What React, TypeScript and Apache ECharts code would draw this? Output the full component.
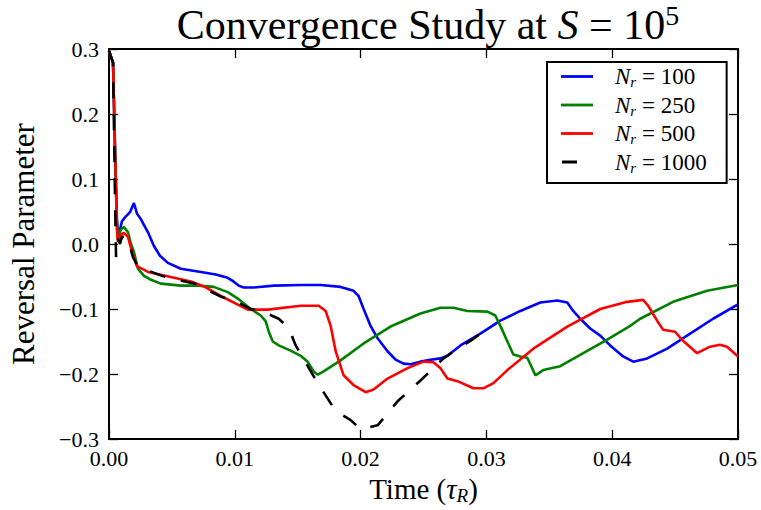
import React, { useEffect, useRef } from 'react';
import * as echarts from 'echarts';

const FONT = "'Liberation Serif', 'DejaVu Serif', serif";

// N_r = 100 (blue)
const t100 = [0, 0.00032, 0.00048, 0.00063, 0.00071, 0.00079, 0.00103, 0.00127, 0.00167, 0.00198, 0.00222, 0.00254, 0.0031, 0.00357, 0.00405, 0.00468, 0.00571, 0.0073, 0.00849, 0.00944, 0.00992, 0.0103, 0.01071, 0.01151, 0.0131, 0.01524, 0.01683, 0.01841, 0.01944, 0.01984, 0.02024, 0.02056, 0.02079, 0.02135, 0.02214, 0.02278, 0.02341, 0.02397, 0.02476, 0.02556, 0.02635, 0.0269, 0.02794, 0.02952, 0.03111, 0.0327, 0.03429, 0.03563, 0.03643, 0.0369, 0.03746, 0.03825, 0.03905, 0.03984, 0.04087, 0.04167, 0.04278, 0.04437, 0.04595, 0.04802, 0.05];
const v100 = [0.297, 0.279, 0.145, 0.038, 0.02, 0.015, 0.035, 0.041, 0.049, 0.063, 0.047, 0.038, 0.018, -0.003, -0.018, -0.029, -0.038, -0.043, -0.047, -0.052, -0.058, -0.064, -0.067, -0.067, -0.064, -0.063, -0.063, -0.066, -0.072, -0.08, -0.1, -0.115, -0.126, -0.145, -0.165, -0.178, -0.184, -0.185, -0.181, -0.178, -0.176, -0.172, -0.156, -0.138, -0.118, -0.103, -0.09, -0.087, -0.09, -0.103, -0.115, -0.13, -0.141, -0.156, -0.173, -0.181, -0.176, -0.161, -0.141, -0.115, -0.093];

// N_r = 250 (green)
const t250 = [0, 0.00032, 0.00048, 0.00063, 0.00071, 0.00095, 0.00119, 0.00151, 0.00175, 0.00198, 0.0023, 0.00278, 0.00333, 0.00413, 0.00571, 0.00706, 0.00833, 0.00944, 0.01024, 0.01127, 0.01206, 0.01246, 0.0127, 0.01302, 0.01349, 0.01444, 0.01524, 0.01579, 0.01627, 0.01659, 0.01706, 0.01841, 0.02024, 0.02238, 0.02476, 0.02635, 0.02738, 0.02849, 0.03008, 0.03071, 0.03111, 0.03167, 0.03214, 0.0327, 0.03325, 0.03357, 0.03389, 0.03452, 0.03587, 0.0377, 0.0396, 0.04143, 0.04222, 0.04484, 0.04754, 0.05];
const v250 = [0.297, 0.279, 0.145, 0.031, 0.008, 0.023, 0.026, 0.018, 0.0, -0.012, -0.038, -0.049, -0.055, -0.061, -0.064, -0.064, -0.066, -0.074, -0.084, -0.1, -0.11, -0.119, -0.135, -0.15, -0.156, -0.164, -0.172, -0.181, -0.196, -0.201, -0.196, -0.179, -0.153, -0.127, -0.107, -0.098, -0.098, -0.103, -0.104, -0.11, -0.126, -0.15, -0.17, -0.173, -0.175, -0.188, -0.202, -0.194, -0.188, -0.168, -0.147, -0.126, -0.115, -0.089, -0.072, -0.063];

// N_r = 500 (red)
const t500 = [0, 0.00032, 0.00048, 0.00063, 0.00071, 0.00095, 0.00119, 0.00151, 0.00183, 0.00222, 0.0031, 0.005, 0.00659, 0.00762, 0.00889, 0.01103, 0.01262, 0.01524, 0.01667, 0.01722, 0.01762, 0.01802, 0.01865, 0.01944, 0.0204, 0.02103, 0.02214, 0.02373, 0.025, 0.02579, 0.02635, 0.0269, 0.0277, 0.02897, 0.02976, 0.03056, 0.03167, 0.03373, 0.03643, 0.03905, 0.04119, 0.04246, 0.04286, 0.04357, 0.04405, 0.045, 0.04563, 0.04675, 0.04778, 0.04857, 0.04913, 0.05];
const v500 = [0.297, 0.279, 0.145, 0.023, 0.003, 0.015, 0.017, 0.011, -0.012, -0.034, -0.043, -0.051, -0.058, -0.066, -0.08, -0.101, -0.101, -0.095, -0.095, -0.103, -0.126, -0.165, -0.202, -0.217, -0.228, -0.224, -0.207, -0.191, -0.181, -0.182, -0.191, -0.207, -0.211, -0.222, -0.222, -0.214, -0.194, -0.161, -0.127, -0.1, -0.089, -0.086, -0.095, -0.118, -0.132, -0.135, -0.149, -0.168, -0.158, -0.155, -0.158, -0.173];

// N_r = 1000 (black dashed)
const t1000 = [0, 0.00032, 0.00048, 0.00056, 0.00071, 0.00087, 0.00103, 0.00127, 0.00151, 0.0019, 0.0023, 0.00421, 0.00524, 0.00683, 0.00889, 0.00992, 0.01127, 0.01222, 0.01349, 0.01429, 0.01484, 0.01659, 0.01802, 0.01921, 0.02, 0.02135, 0.02294, 0.02476, 0.02659, 0.0277, 0.02873, 0.03008];
const v1000 = [0.297, 0.279, 0.069, -0.02, 0.008, 0.0, 0.011, 0.012, 0.008, -0.02, -0.035, -0.049, -0.054, -0.061, -0.081, -0.087, -0.1, -0.104, -0.115, -0.129, -0.156, -0.214, -0.257, -0.271, -0.285, -0.279, -0.242, -0.21, -0.176, -0.161, -0.149, -0.13];

const nrValues = ['100', '250', '500', '1000'];
const seriesNames = nrValues.map((v) => 'N_r = ' + v);
const seriesColors = ['#0000ff', '#008000', '#ff0000', '#000000'];

const xMin = 0, xMax = 0.05, xStep = 0.01;
const yMin = -0.3, yMax = 0.3, yStep = 0.1;

const zip = (t: number[], v: number[]) => t.map((x, i) => [x, v[i]]);

export default function App() {
  const ref = useRef<HTMLDivElement>(null);
  useEffect(() => {
    const chart = echarts.init(ref.current!, null, { renderer: 'svg' });
    const datasets = [zip(t100, v100), zip(t250, v250), zip(t500, v500), zip(t1000, v1000)];
    const series = datasets.map((d, i) => ({
      name: seriesNames[i],
      type: 'line',
      data: d,
      showSymbol: false,
      symbol: 'none',
      clip: true,
      xAxisIndex: 0,
      yAxisIndex: 0,
      itemStyle: { color: seriesColors[i] },
      lineStyle: {
        color: seriesColors[i],
        width: 2.6,
        type: i === 3 ? [16, 16] : 'solid',
      },
      z: 2 + i,
    }));
    const axisLine = { show: true, onZero: false, lineStyle: { color: '#000', width: 2 } };
    const axisTick = { show: true, inside: true, length: 9, lineStyle: { color: '#000', width: 1.3 } };
    chart.setOption({
      animation: false,
      backgroundColor: '#fff',
      grid: { left: 108, top: 49, width: 630, height: 392, containLabel: false },
      graphic: [
        {
          type: 'text',
          x: 428,
          y: 1,
          style: {
            text: '{a|Convergence Study at }{i|S}{a| = 10}{p|5}',
            align: 'center',
            textAlign: 'center',
            verticalAlign: 'top',
            rich: {
              a: { fontFamily: FONT, fontSize: 42, lineHeight: 47, fill: '#000', color: '#000' },
              i: { fontFamily: FONT, fontStyle: 'italic', fontSize: 42, lineHeight: 47, fill: '#000', color: '#000' },
              p: { fontFamily: FONT, fontSize: 28, lineHeight: 34, verticalAlign: 'top', fill: '#000', color: '#000' },
            },
          },
        },
      ],
      legend: {
        orient: 'vertical',
        left: 547,
        top: 62,
        backgroundColor: '#fff',
        borderColor: '#000',
        borderWidth: 2,
        borderRadius: 0,
        padding: [3, 20, 8, 14],
        itemWidth: 32,
        itemHeight: 2.8,
        itemGap: 4,
        data: seriesNames.map((n, i) =>
          i === 3
            ? { name: n, icon: 'path://M0,0H16V3H0ZM32,0H32V3H32Z' }
            : { name: n, icon: 'rect' }
        ),
        formatter: (name: string) => {
          const idx = seriesNames.indexOf(name);
          return '{n|N}{s|r}{t| = ' + nrValues[idx] + '}';
        },
        textStyle: {
          fontFamily: FONT,
          color: '#000',
          rich: {
            n: { fontFamily: FONT, fontStyle: 'italic', fontSize: 23, lineHeight: 26, padding: [0, 0, 0, 17], color: '#000' },
            s: { fontFamily: FONT, fontStyle: 'italic', fontSize: 15, lineHeight: 6, verticalAlign: 'bottom', color: '#000' },
            t: { fontFamily: FONT, fontSize: 23, lineHeight: 26, color: '#000' },
          },
        },
      },
      xAxis: [
        {
          type: 'value',
          min: xMin,
          max: xMax,
          interval: xStep,
          position: 'bottom',
          axisLine,
          axisTick,
          splitLine: { show: false },
          axisLabel: {
            formatter: (v: number) => v.toFixed(2),
            fontFamily: FONT,
            fontSize: 22,
            color: '#000',
            margin: 8,
          },
          name: '{a|Time (}{i|τ}{s|R}{a|)}',
          nameLocation: 'middle',
          nameGap: 34,
          nameTextStyle: {
            fontFamily: FONT,
            color: '#000',
            rich: {
              a: { fontFamily: FONT, fontSize: 29, lineHeight: 32, color: '#000' },
              i: { fontFamily: FONT, fontStyle: 'italic', fontSize: 29, lineHeight: 32, color: '#000' },
              s: { fontFamily: FONT, fontStyle: 'italic', fontSize: 19, lineHeight: 8, verticalAlign: 'bottom', color: '#000' },
            },
          },
        },
        {
          type: 'value',
          min: xMin,
          max: xMax,
          interval: xStep,
          position: 'top',
          axisLine,
          axisTick,
          splitLine: { show: false },
          axisLabel: { show: false },
        },
      ],
      yAxis: [
        {
          type: 'value',
          min: yMin,
          max: yMax,
          interval: yStep,
          position: 'left',
          axisLine,
          axisTick,
          splitLine: { show: false },
          axisLabel: {
            formatter: (v: number) => {
              const r = Math.round(v * 10) / 10;
              return (r < 0 ? '−' : '') + Math.abs(r).toFixed(1);
            },
            fontFamily: FONT,
            fontSize: 22,
            color: '#000',
            margin: 10,
          },
          name: 'Reversal Parameter',
          nameLocation: 'middle',
          nameGap: 70,
          nameTextStyle: { fontFamily: FONT, fontSize: 31, color: '#000' },
        },
        {
          type: 'value',
          min: yMin,
          max: yMax,
          interval: yStep,
          position: 'right',
          axisLine,
          axisTick,
          splitLine: { show: false },
          axisLabel: { show: false },
        },
      ],
      series,
    });
    return () => chart.dispose();
  }, []);
  return <div ref={ref} style={{ position: 'fixed', left: 0, top: 0, width: 761, height: 510 }} />;
}
